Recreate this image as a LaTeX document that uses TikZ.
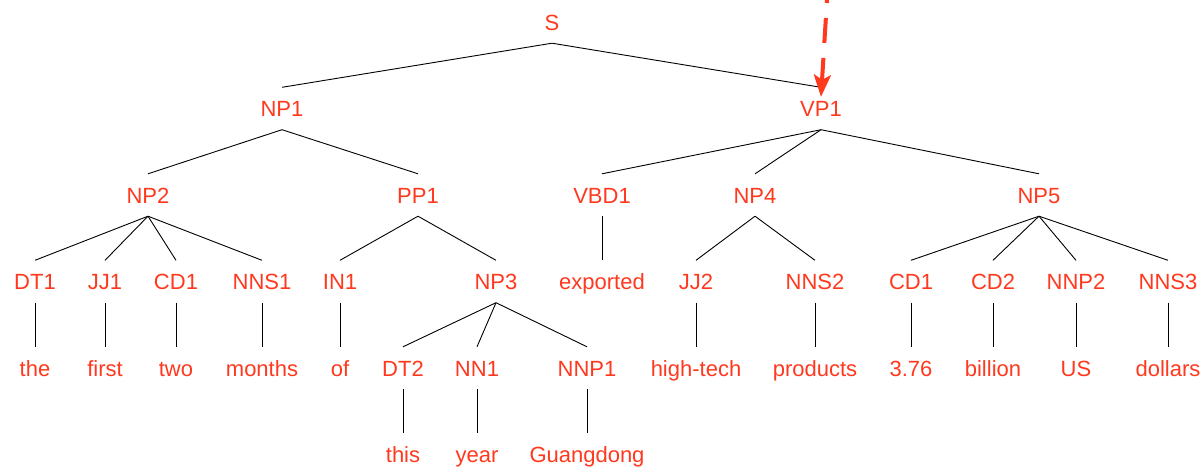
\documentclass[tikz,border=0pt]{standalone}
\usepackage{fontspec}
\setmainfont{Liberation Sans}
\usetikzlibrary{arrows.meta}
\definecolor{tred}{RGB}{255,56,30}
\begin{document}
\begin{tikzpicture}[x=1pt,y=-1pt,
  lab/.style={text=tred, font=\fontsize{22}{26}\selectfont, inner xsep=2pt, inner ysep=13pt,
    text height=16pt, text depth=0pt, anchor=base},
  edge/.style={draw=black, line width=0.9pt},
  hint/.style={draw=tred, line width=4pt, dash pattern=on 25pt off 15pt, dash phase=22pt,
    -{Stealth[length=22pt,width=17pt,inset=5pt]}}]
\useasboundingbox (0,0) rectangle (1203,467);
% row 0
\node[lab] (S) at (552,30) {S};
% row 1
\node[lab] (NPa) at (282,116.5) {NP1};
\node[lab] (VPa) at (821,116.5) {VP1};
% row 2
\node[lab] (NPb) at (148,203) {NP2};
\node[lab] (PPa) at (418,203) {PP1};
\node[lab] (VBDa) at (602,203) {VBD1};
\node[lab] (NPd) at (755,203) {NP4};
\node[lab] (NPe) at (1039,203) {NP5};
% row 3
\node[lab] (DTa) at (35,289.5) {DT1};
\node[lab] (JJa) at (105,289.5) {JJ1};
\node[lab] (CDa) at (176,289.5) {CD1};
\node[lab] (NNSa) at (262,289.5) {NNS1};
\node[lab] (INa) at (340,289.5) {IN1};
\node[lab] (NPc) at (496,289.5) {NP3};
\node[lab] (exported) at (602,289.5) {exported};
\node[lab] (JJb) at (696,289.5) {JJ2};
\node[lab] (NNSb) at (815,289.5) {NNS2};
\node[lab] (CDb) at (911,289.5) {CD1};
\node[lab] (CDc) at (993,289.5) {CD2};
\node[lab] (NNPb) at (1076,289.5) {NNP2};
\node[lab] (NNSc) at (1168,289.5) {NNS3};
% row 4
\node[lab] (the) at (35,376) {the};
\node[lab] (first) at (105,376) {first};
\node[lab] (two) at (176,376) {two};
\node[lab] (months) at (262,376) {months};
\node[lab] (of) at (340,376) {of};
\node[lab] (DTb) at (403,376) {DT2};
\node[lab] (NNa) at (477,376) {NN1};
\node[lab] (NNPa) at (587,376) {NNP1};
\node[lab] (hightech) at (696,376) {high-tech};
\node[lab] (products) at (815,376) {products};
\node[lab] (num) at (911,376) {3.76};
\node[lab] (billion) at (993,376) {billion};
\node[lab] (US) at (1076,376) {US};
\node[lab] (dollars) at (1168,376) {dollars};
% row 5
\node[lab] (this) at (403,462) {this};
\node[lab] (year) at (477,462) {year};
\node[lab] (Guangdong) at (587,462) {Guangdong};
% edges
\foreach \p/\c in {S/NPa, S/VPa, NPa/NPb, NPa/PPa, VPa/VBDa, VPa/NPd, VPa/NPe,
  NPb/DTa, NPb/JJa, NPb/CDa, NPb/NNSa, PPa/INa, PPa/NPc, VBDa/exported,
  NPd/JJb, NPd/NNSb, NPe/CDb, NPe/CDc, NPe/NNPb, NPe/NNSc,
  DTa/the, JJa/first, CDa/two, NNSa/months, INa/of,
  NPc/DTb, NPc/NNa, NPc/NNPa, JJb/hightech, NNSb/products,
  CDb/num, CDc/billion, NNPb/US, NNSc/dollars,
  DTb/this, NNa/year, NNPa/Guangdong}
  \draw[edge] (\p.south) -- (\c.north);
% dashed arrow
\coordinate (arrtop) at (827,0);
\draw[hint] (arrtop) -- ([yshift=-9.5pt]VPa.north);
\end{tikzpicture}
\end{document}
